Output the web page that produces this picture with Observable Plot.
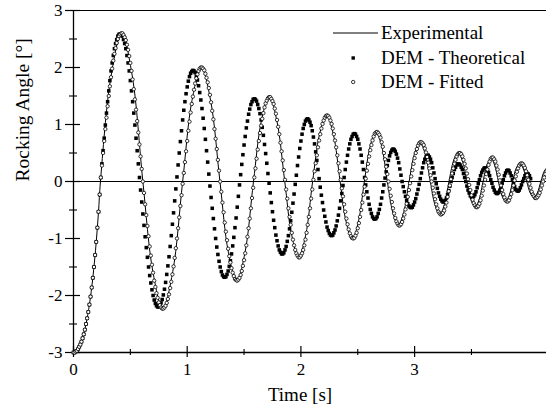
<!DOCTYPE html>
<html><head><meta charset="utf-8">
<script src="https://cdn.jsdelivr.net/npm/d3@7"></script>
<script src="https://cdn.jsdelivr.net/npm/@observablehq/plot@0.6"></script>
<style>
html,body{margin:0;padding:0;background:#fff;}
#wrap{position:relative;width:546px;height:416px;font-family:"Liberation Serif","Times New Roman",serif;}
#legend{position:absolute;left:330px;top:21px;font-size:19px;color:#000;}
.row{display:flex;align-items:center;height:24.5px;}
.row svg{width:51px;height:24px;flex:none;}
svg text{font-family:"Liberation Serif","Times New Roman",serif;}
</style></head><body><div id="wrap"><div id="chart"></div><div id="legend"></div></div>
<script>
// sampling step of the two DEM series (s)
const sampleStep = 0.01;

// DEM - Theoretical, rocking angle [deg], t = 0 ... 4.02 s
const theoretical = [
-3.00,-3.00,-2.98,-2.97,-2.94,-2.90,-2.86,-2.81,-2.75,-2.68,-2.60,-2.50,-2.40,-2.29,-2.16,-2.02,-1.86,-1.69,-1.50,-1.29,-1.06,-0.81,-0.53,-0.23,
0.07,0.31,0.54,0.76,0.99,1.20,1.40,1.59,1.77,1.94,2.08,2.21,2.33,2.42,2.49,2.55,2.58,2.59,2.58,2.55,2.49,2.42,2.33,2.21,2.08,1.94,1.77,1.59,1.40,1.20,0.99,0.76,0.54,0.31,0.07,
-0.15,-0.36,-0.57,-0.77,-0.97,-1.16,-1.33,-1.50,-1.65,-1.78,-1.90,-2.00,-2.08,-2.14,-2.18,-2.20,-2.20,-2.17,-2.13,-2.07,-1.99,-1.89,-1.77,-1.63,-1.48,-1.32,-1.14,-0.95,-0.75,-0.55,-0.34,-0.13,
0.08,0.29,0.50,0.70,0.89,1.08,1.25,1.40,1.54,1.66,1.76,1.84,1.90,1.93,1.95,1.94,1.91,1.85,1.78,1.68,1.56,1.43,1.28,1.11,0.93,0.74,0.54,0.34,0.13,
-0.08,-0.28,-0.47,-0.65,-0.83,-1.00,-1.15,-1.28,-1.40,-1.50,-1.58,-1.64,-1.67,-1.68,-1.67,-1.63,-1.57,-1.49,-1.39,-1.27,-1.13,-0.98,-0.81,-0.64,-0.45,-0.26,-0.06,
0.12,0.30,0.47,0.64,0.79,0.94,1.06,1.18,1.27,1.35,1.40,1.44,1.45,1.44,1.41,1.35,1.28,1.19,1.08,0.95,0.81,0.65,0.49,0.32,0.14,
-0.03,-0.20,-0.37,-0.53,-0.68,-0.81,-0.94,-1.04,-1.13,-1.20,-1.24,-1.27,-1.27,-1.25,-1.20,-1.14,-1.05,-0.95,-0.83,-0.69,-0.54,-0.38,-0.22,-0.05,
0.11,0.28,0.43,0.58,0.71,0.83,0.93,1.00,1.06,1.09,1.10,1.08,1.04,0.98,0.89,0.78,0.66,0.52,0.37,0.21,0.05,
-0.10,-0.24,-0.37,-0.50,-0.61,-0.71,-0.80,-0.86,-0.91,-0.94,-0.95,-0.94,-0.90,-0.85,-0.78,-0.69,-0.59,-0.47,-0.34,-0.21,-0.07,
0.07,0.21,0.34,0.46,0.57,0.66,0.74,0.79,0.83,0.84,0.83,0.79,0.74,0.66,0.57,0.46,0.34,0.21,0.07,
-0.06,-0.18,-0.29,-0.40,-0.49,-0.56,-0.62,-0.65,-0.66,-0.65,-0.62,-0.56,-0.49,-0.40,-0.29,-0.18,-0.06,
0.06,0.17,0.28,0.37,0.45,0.51,0.55,0.57,0.56,0.53,0.48,0.41,0.33,0.22,0.11,
0.00,
-0.09,-0.18,-0.26,-0.33,-0.39,-0.43,-0.45,-0.46,-0.45,-0.41,-0.36,-0.30,-0.22,-0.14,-0.05,
0.05,0.15,0.24,0.33,0.39,0.43,0.46,0.46,0.43,0.39,0.33,0.24,0.15,0.05,
-0.04,-0.12,-0.20,-0.26,-0.31,-0.34,-0.36,-0.35,-0.33,-0.29,-0.23,-0.16,-0.08,
0.00,
0.07,0.14,0.21,0.25,0.29,0.31,0.31,0.29,0.25,0.21,0.14,0.07,
0.00,
-0.08,-0.15,-0.20,-0.25,-0.27,-0.28,-0.26,-0.23,-0.18,-0.11,-0.04,
0.03,0.10,0.16,0.20,0.23,0.24,0.23,0.20,0.16,0.10,0.03,
-0.03,-0.10,-0.15,-0.19,-0.21,-0.21,-0.19,-0.15,-0.10,-0.03,
0.03,0.10,0.15,0.19,0.20,0.19,0.15,0.10,0.03,
-0.03,-0.09,-0.14,-0.16,-0.17,-0.15,-0.11,-0.06,
0.00,
0.05,0.10,0.13,0.14,0.13,0.10,0.05
];

// DEM - Fitted, rocking angle [deg], t = 0 ... 4.16 s
const fitted = [
-3.00,-3.00,-2.98,-2.97,-2.94,-2.90,-2.86,-2.81,-2.75,-2.68,-2.60,-2.50,-2.40,-2.29,-2.16,-2.02,-1.86,-1.69,-1.50,-1.29,-1.06,-0.81,-0.53,-0.23,
0.07,0.28,0.50,0.71,0.92,1.12,1.32,1.50,1.67,1.83,1.98,2.12,2.24,2.34,2.43,2.50,2.55,2.58,2.60,2.60,2.57,2.53,2.48,2.40,2.31,2.20,2.08,1.94,1.79,1.62,1.44,1.26,1.06,0.86,0.65,0.44,0.22,0.00,
-0.20,-0.40,-0.59,-0.78,-0.96,-1.14,-1.30,-1.46,-1.60,-1.74,-1.85,-1.96,-2.04,-2.12,-2.17,-2.21,-2.23,-2.23,-2.21,-2.18,-2.13,-2.06,-1.98,-1.87,-1.76,-1.63,-1.49,-1.34,-1.17,-1.00,-0.82,-0.63,-0.43,-0.24,-0.04,
0.15,0.34,0.53,0.71,0.89,1.05,1.21,1.36,1.49,1.61,1.72,1.81,1.88,1.94,1.98,2.00,2.00,1.98,1.95,1.89,1.82,1.74,1.64,1.52,1.39,1.24,1.09,0.92,0.75,0.57,0.38,0.19,0.00,
-0.18,-0.37,-0.54,-0.72,-0.88,-1.03,-1.18,-1.31,-1.42,-1.52,-1.60,-1.66,-1.71,-1.73,-1.74,-1.72,-1.69,-1.64,-1.57,-1.48,-1.38,-1.26,-1.12,-0.97,-0.82,-0.65,-0.47,-0.29,-0.11,
0.07,0.23,0.40,0.56,0.71,0.85,0.98,1.10,1.20,1.30,1.37,1.42,1.46,1.48,1.48,1.45,1.41,1.36,1.28,1.19,1.08,0.96,0.83,0.68,0.53,0.37,0.20,0.03,
-0.14,-0.30,-0.47,-0.62,-0.76,-0.90,-1.02,-1.12,-1.20,-1.26,-1.30,-1.33,-1.33,-1.30,-1.26,-1.20,-1.12,-1.02,-0.90,-0.76,-0.62,-0.47,-0.30,-0.14,
0.03,0.18,0.32,0.46,0.60,0.72,0.83,0.93,1.01,1.07,1.12,1.15,1.16,1.15,1.12,1.07,1.01,0.93,0.83,0.72,0.60,0.46,0.32,0.18,0.03,
-0.12,-0.26,-0.40,-0.53,-0.65,-0.75,-0.84,-0.91,-0.96,-0.99,-1.00,-0.99,-0.95,-0.90,-0.82,-0.73,-0.62,-0.50,-0.37,-0.23,-0.09,
0.05,0.19,0.31,0.44,0.55,0.64,0.72,0.79,0.84,0.86,0.87,0.85,0.82,0.77,0.69,0.61,0.50,0.39,0.26,0.13,0.00,
-0.13,-0.25,-0.36,-0.47,-0.56,-0.64,-0.70,-0.74,-0.77,-0.77,-0.75,-0.71,-0.65,-0.58,-0.49,-0.39,-0.27,-0.15,-0.03,
0.09,0.20,0.31,0.41,0.50,0.57,0.63,0.67,0.69,0.69,0.67,0.64,0.58,0.51,0.43,0.33,0.23,0.11,0.00,
-0.11,-0.21,-0.31,-0.40,-0.47,-0.53,-0.56,-0.58,-0.57,-0.55,-0.51,-0.44,-0.37,-0.27,-0.17,-0.07,
0.04,0.14,0.23,0.31,0.38,0.44,0.48,0.50,0.50,0.48,0.44,0.38,0.31,0.23,0.14,0.04,
-0.06,-0.15,-0.24,-0.32,-0.38,-0.42,-0.45,-0.45,-0.43,-0.39,-0.33,-0.25,-0.16,-0.07,
0.03,0.13,0.21,0.29,0.35,0.40,0.42,0.42,0.39,0.35,0.28,0.21,0.12,0.02,
-0.07,-0.15,-0.22,-0.28,-0.33,-0.35,-0.35,-0.33,-0.28,-0.22,-0.15,-0.07,
0.02,0.09,0.17,0.23,0.28,0.31,0.32,0.31,0.28,0.24,0.18,0.11,0.03,
-0.04,-0.11,-0.18,-0.23,-0.26,-0.29,-0.29,-0.27,-0.24,-0.20,-0.14,-0.07,
0.00,0.07,0.13,0.18
];

// Experimental record: times [s] and rocking angle [deg] read at key points
const expTime = [0,0.04,0.08,0.11,0.14,0.17,0.20,0.22,0.237,
0.330,0.424,0.517,0.61, 0.698,0.785,0.873,0.96, 1.042,1.124,1.206,1.288, 1.362,1.436,1.509,1.583,
1.652,1.721,1.789,1.858, 1.919,1.981,2.042,2.103, 2.164,2.224,2.285,2.345, 2.398,2.452,2.505,2.558,
2.609,2.659,2.710,2.76, 2.808,2.856,2.904,2.952, 2.999,3.045,3.092,3.138, 3.179,3.220,3.261,3.302,
3.342,3.381,3.421,3.46, 3.496,3.531,3.567,3.602, 3.636,3.670,3.703,3.737, 3.768,3.800,3.831,3.862,
3.893,3.924,3.955,3.986, 4.017,4.048,4.079,4.11, 4.14,4.17];
const expAngle = [-3.00,-2.94,-2.75,-2.50,-2.16,-1.69,-1.06,-0.53,0,
1.85,2.61,1.85,0, -1.58,-2.24,-1.58,0, 1.42,2.01,1.42,0, -1.24,-1.75,-1.24,0,
1.06,1.50,1.06,0, -0.94,-1.33,-0.94,0, 0.83,1.17,0.83,0, -0.71,-1.01,-0.71,0,
0.62,0.88,0.62,0, -0.54,-0.77,-0.54,0, 0.49,0.69,0.49,0, -0.41,-0.58,-0.41,0,
0.36,0.51,0.36,0, -0.32,-0.45,-0.32,0, 0.29,0.41,0.29,0, -0.25,-0.35,-0.25,0,
0.23,0.32,0.23,0, -0.20,-0.28,-0.20,0, 0.18,0.26];

const seriesNames = ["Experimental", "DEM - Theoretical", "DEM - Fitted"];
const xMajorTicks = [0, 1, 2, 3];
const xMinorTicks = [0.5, 1.5, 2.5, 3.5];
const yMajorTicks = [-3, -2, -1, 0, 1, 2, 3];
const yMinorTicks = [-2.5, -1.5, -0.5, 0.5, 1.5, 2.5];
const xLabel = "Time [s]";
const yLabel = "Rocking Angle [°]";

const theoRows = theoretical.map((v, i) => ({t: +(i * sampleStep).toFixed(2), v}));
const fitRows = fitted.map((v, i) => ({t: +(i * sampleStep).toFixed(2), v}));
const expRows = expTime.map((t, i) => ({t, v: expAngle[i]}));

const W = 546, H = 416, mL = 73, mR = 0, mT = 10, mB = 64;
const fw = W - mL - mR, fh = H - mT - mB;
const serif = '"Liberation Serif","Times New Roman",serif';
const fmt = d => String(d);

const chart = Plot.plot({
  width: W, height: H,
  marginLeft: mL, marginRight: mR, marginTop: mT, marginBottom: mB,
  style: {fontFamily: serif, fontSize: "16px", color: "black", background: "white", overflow: "visible"},
  x: {domain: [0, 4.16]},
  y: {domain: [-3, 3]},
  marks: [
    Plot.axisX(xMajorTicks, {tickSize: 0, tickPadding: 10, label: null, fontSize: 17, fontFamily: serif, tickFormat: fmt}),
    Plot.axisY(yMajorTicks, {tickSize: 0, tickPadding: 11, label: null, fontSize: 17, fontFamily: serif, tickFormat: fmt}),
    Plot.ruleY([0], {stroke: "black", strokeWidth: 1}),
    Plot.ruleY([3], {stroke: "black", strokeWidth: 1.2}),
    Plot.ruleY([-3], {stroke: "black", strokeWidth: 1.3}),
    Plot.ruleX([0], {stroke: "black", strokeWidth: 1.3}),
    Plot.ruleX(xMajorTicks, {x: d => d, insetTop: fh - 6, insetBottom: -5, stroke: "black", strokeWidth: 1.2}),
    Plot.ruleX(xMinorTicks, {x: d => d, insetTop: fh - 3, insetBottom: -3, stroke: "black", strokeWidth: 1.1}),
    Plot.ruleY(yMajorTicks, {y: d => d, insetLeft: -8, insetRight: fw - 7, stroke: "black", strokeWidth: 1.2}),
    Plot.ruleY(yMinorTicks, {y: d => d, insetLeft: -4, insetRight: fw - 4, stroke: "black", strokeWidth: 1.1}),
    Plot.dot(theoRows, {x: "t", y: "v", symbol: "square", r: 2, fill: "black", stroke: "none"}),
    Plot.line(expRows, {x: "t", y: "v", curve: "catmull-rom", stroke: "black", strokeWidth: 1}),
    Plot.dot(fitRows, {x: "t", y: "v", r: 1.7, fill: "white", stroke: "black", strokeWidth: 0.8}),
    Plot.text([xLabel], {frameAnchor: "bottom", dx: -10, dy: 48, fontSize: 19, fontFamily: serif, fill: "black"}),
    Plot.text([yLabel], {frameAnchor: "left", dx: -51, rotate: -90, fontSize: 19.5, fontFamily: serif, fill: "black"})
  ]
});
document.getElementById("chart").appendChild(chart);

// legend
const lg = d3.select("#legend");
seriesNames.forEach((name, i) => {
  const row = lg.append("div").attr("class", "row");
  const s = row.append("svg").attr("viewBox", "0 0 51 24");
  if (i === 0) s.append("line").attr("x1", 3).attr("x2", 48).attr("y1", 12).attr("y2", 12).attr("stroke", "black").attr("stroke-width", 1);
  else if (i === 1) s.append("rect").attr("x", 21.5).attr("y", 10.3).attr("width", 3.4).attr("height", 3.4).attr("fill", "black");
  else s.append("circle").attr("cx", 23.2).attr("cy", 12).attr("r", 1.7).attr("fill", "white").attr("stroke", "black").attr("stroke-width", 0.8);
  row.append("span").text(name);
});
</script></body></html>
